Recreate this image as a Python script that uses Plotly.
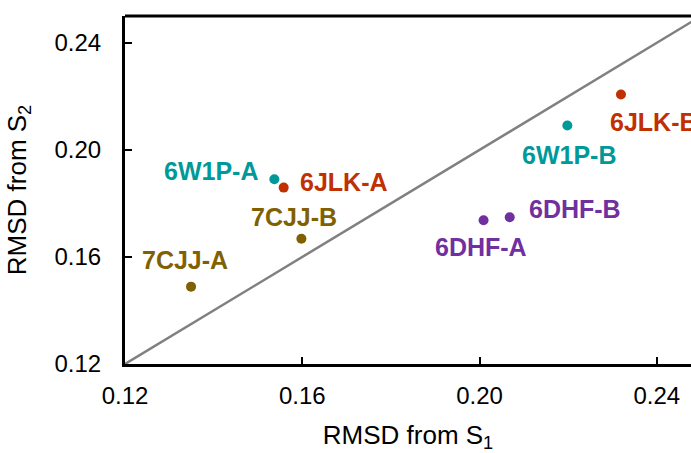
import plotly.graph_objects as go

# Data
names = ["6W1P-A", "6W1P-B", "6JLK-A", "6JLK-B", "7CJJ-A", "7CJJ-B", "6DHF-A", "6DHF-B"]
rmsd_s1 = [0.1537, 0.2198, 0.1558, 0.2319, 0.1349, 0.1598, 0.2009, 0.2068]
rmsd_s2 = [0.1890, 0.2091, 0.1859, 0.2207, 0.1489, 0.1668, 0.1737, 0.1748]
groups = ["6W1P", "6W1P", "6JLK", "6JLK", "7CJJ", "7CJJ", "6DHF", "6DHF"]
tick_vals = [0.12, 0.16, 0.20, 0.24]
tick_text = ["0.12", "0.16", "0.20", "0.24"]
diag = [0.12, 0.25]

# Styles
colors = {"6W1P": "#00999A", "6JLK": "#C03000", "7CJJ": "#806000", "6DHF": "#7030A0"}
# label placement: (xanchor, xshift, yshift)
label_pos = {
    "6W1P-A": ("right", -14, 8),
    "6W1P-B": ("center", 2, -30),
    "6JLK-A": ("left", 14, 6),
    "6JLK-B": ("left", -13, -28),
    "7CJJ-A": ("center", -6, 27),
    "7CJJ-B": ("center", -7, 22),
    "6DHF-A": ("center", -3, -27),
    "6DHF-B": ("left", 17, 8),
}
FONT = "Liberation Sans, Arial, sans-serif"

fig = go.Figure()
fig.add_trace(go.Scatter(x=diag, y=diag, mode="lines",
                         line=dict(color="#808080", width=2.5),
                         hoverinfo="skip", showlegend=False, cliponaxis=True))
fig.add_trace(go.Scatter(x=rmsd_s1, y=rmsd_s2, mode="markers", text=names,
                         marker=dict(size=10, color=[colors[g] for g in groups]),
                         showlegend=False))

for n, g, xv, yv in zip(names, groups, rmsd_s1, rmsd_s2):
    anchor, xs, ys = label_pos[n]
    fig.add_annotation(x=xv, y=yv, xref="x", yref="y", text="<b>%s</b>" % n,
                       showarrow=False, xanchor=anchor, yanchor="middle",
                       xshift=xs, yshift=ys,
                       font=dict(family=FONT, size=25, color=colors[g]))

# top border
fig.add_shape(type="line", xref="paper", yref="paper", x0=0, x1=1, y0=1, y1=1,
              line=dict(color="black", width=3))

axis_common = dict(showgrid=False, zeroline=False, showline=True,
                   linecolor="black", linewidth=3,
                   ticks="inside", ticklen=7, tickwidth=2, tickcolor="black",
                   tickvals=tick_vals, ticktext=tick_text,
                   tickfont=dict(family=FONT, size=24, color="black"))

fig.update_layout(
    width=691, height=453,
    margin=dict(l=125, r=0, t=16, b=89),
    paper_bgcolor="white", plot_bgcolor="white",
    xaxis=dict(range=[0.12, 0.2477], title=dict(text="RMSD from S<sub>1</sub>",
               font=dict(family=FONT, size=26, color="black"), standoff=26),
               ticklabelstandoff=8, **axis_common),
    yaxis=dict(range=[0.12, 0.25], title=dict(text="RMSD from S<sub>2</sub>",
               font=dict(family=FONT, size=26, color="black"), standoff=21),
               ticklabelstandoff=16, **axis_common),
)

fig.write_html("out.html", config={"displayModeBar": False},
               post_script="document.body.style.margin='0';document.body.style.overflow='hidden';")
